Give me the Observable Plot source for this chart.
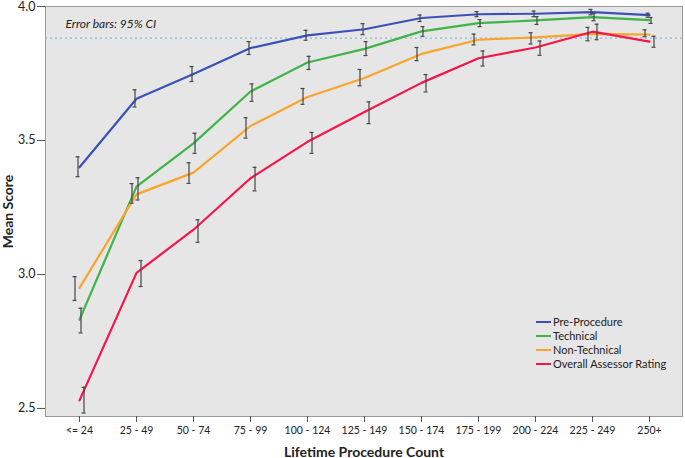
<!DOCTYPE html>
<html>
<head>
<meta charset="utf-8">
<script src="https://cdn.jsdelivr.net/npm/d3@7"></script>
<script src="https://cdn.jsdelivr.net/npm/@observablehq/plot@0.6"></script>
<style>
  body { margin: 0; background: #fff; font-family: Lato, sans-serif; }
  #wrap { position: relative; width: 685px; height: 458px; }
  #legend { position: absolute; left: 536px; top: 315px; font-size: 11px; color: #222; line-height: 14px; font-family: Lato, sans-serif; }
  #legend .row { display: flex; align-items: center; white-space: nowrap; }
  #legend .sw { width: 15px; height: 2px; margin-right: 2px; }
</style>
</head>
<body>
<div id="wrap"><div id="legend"></div></div>
<script>
const categories = ["<= 24", "25 - 49", "50 - 74", "75 - 99", "100 - 124", "125 - 149", "150 - 174", "175 - 199", "200 - 224", "225 - 249", "250+"];
const seriesNames = ["Pre-Procedure", "Technical", "Non-Technical", "Overall Assessor Rating"];
const seriesColors = ["#3a52b8", "#3fb44a", "#fba42c", "#f5174b"];
const barOffsets = [-1.5, 1.5, -4.5, 4.5];

const preMean = [3.400, 3.656, 3.748, 3.845, 3.892, 3.915, 3.957, 3.971, 3.973, 3.979, 3.968];
const preLo   = [3.365, 3.625, 3.720, 3.821, 3.874, 3.895, 3.944, 3.962, 3.962, 3.969, 3.960];
const preHi   = [3.439, 3.689, 3.776, 3.869, 3.911, 3.936, 3.968, 3.981, 3.983, 3.989, 3.975];

const techMean = [2.831, 3.328, 3.489, 3.683, 3.791, 3.842, 3.907, 3.938, 3.948, 3.960, 3.949];
const techLo   = [2.782, 3.278, 3.452, 3.646, 3.765, 3.817, 3.889, 3.925, 3.933, 3.947, 3.937];
const techHi   = [2.874, 3.361, 3.527, 3.711, 3.814, 3.869, 3.925, 3.951, 3.962, 3.973, 3.959];

const nonTechMean = [2.950, 3.299, 3.380, 3.554, 3.662, 3.733, 3.823, 3.876, 3.885, 3.898, 3.895];
const nonTechLo   = [2.903, 3.266, 3.340, 3.509, 3.635, 3.704, 3.798, 3.857, 3.860, 3.872, 3.887];
const nonTechHi   = [2.992, 3.339, 3.417, 3.585, 3.694, 3.765, 3.847, 3.897, 3.902, 3.922, 3.913];

const overallMean = [2.530, 3.006, 3.167, 3.359, 3.495, 3.606, 3.715, 3.807, 3.847, 3.906, 3.869];
const overallLo   = [2.483, 2.955, 3.120, 3.312, 3.452, 3.563, 3.681, 3.778, 3.818, 3.876, 3.848];
const overallHi   = [2.579, 3.052, 3.204, 3.400, 3.530, 3.644, 3.746, 3.834, 3.871, 3.934, 3.889];

const referenceValue = 3.882;
const yTicks = [2.5, 3.0, 3.5, 4.0];
const noteText = "Error bars: 95% CI";

const means = [preMean, techMean, nonTechMean, overallMean];
const los = [preLo, techLo, nonTechLo, overallLo];
const his = [preHi, techHi, nonTechHi, overallHi];

const seriesData = seriesNames.map((name, s) =>
  categories.map((c, i) => ({series: name, cat: c, mean: means[s][i], lo: los[s][i], hi: his[s][i]}))
);

const marks = [
  Plot.frame({fill: "#e6e6e6", stroke: "#9a9a9a"}),
  Plot.ruleY([referenceValue], {stroke: "#8fb9d6", strokeWidth: 1.3, strokeDasharray: "2,3"}),
  Plot.text([noteText], {frameAnchor: "top-left", dx: 20, dy: 18, lineAnchor: "middle", textAnchor: "start", fontStyle: "italic", fontSize: 12, fill: "#222"})
];
seriesData.forEach((d, s) => {
  marks.push(Plot.line(d, {x: "cat", y: "mean", stroke: seriesColors[s], strokeWidth: 2.2}));
});
seriesData.forEach((d, s) => {
  const dx = barOffsets[s];
  marks.push(Plot.ruleX(d, {x: "cat", y1: "lo", y2: "hi", dx, stroke: "#444", strokeWidth: 1.2}));
  marks.push(Plot.ruleY(d, {y: "lo", x1: "cat", x2: "cat", dx, insetLeft: -2, insetRight: -2, stroke: "#444", strokeWidth: 1.2}));
  marks.push(Plot.ruleY(d, {y: "hi", x1: "cat", x2: "cat", dx, insetLeft: -2, insetRight: -2, stroke: "#444", strokeWidth: 1.2}));
});
marks.push(Plot.axisY({ticks: yTicks, tickFormat: d3.format(".1f"), tickSize: 8, tickPadding: 2, fontSize: 12.5, label: "Mean Score", labelArrow: false, labelAnchor: "center", labelOffset: 42, stroke: "#555"}));
marks.push(Plot.axisX({tickSize: 6, tickPadding: 4, fontSize: 10.5, label: "Lifetime Procedure Count", labelArrow: false, labelAnchor: "center", labelOffset: 40, stroke: "#555"}));

const chart = Plot.plot({
  width: 685,
  height: 458,
  marginLeft: 45,
  marginRight: 3,
  marginTop: 6,
  marginBottom: 42,
  style: {fontFamily: "Lato", background: "#fff", color: "#222"},
  x: {type: "point", domain: categories, padding: 0.5, label: null},
  y: {domain: [2.47, 4.0], label: null},
  marks
});
const wrap = document.getElementById("wrap");
wrap.insertBefore(chart, wrap.firstChild);

d3.select(chart).selectAll("[aria-label='y-axis label'] text, [aria-label='x-axis label'] text")
  .style("font-weight", "bold").style("font-size", "14px");

const legend = document.getElementById("legend");
seriesNames.forEach((n, i) => {
  const row = document.createElement("div");
  row.className = "row";
  row.innerHTML = `<span class="sw" style="background:${seriesColors[i]}"></span><span>${n}</span>`;
  legend.appendChild(row);
});
</script>
</body>
</html>
